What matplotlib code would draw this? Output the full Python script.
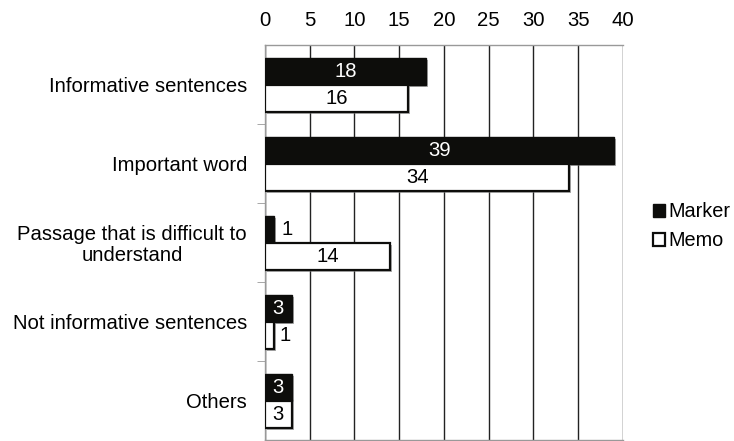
import matplotlib.pyplot as plt
import matplotlib.patheffects as pe
import numpy as np
from matplotlib.patches import Patch

plt.rcParams['font.family'] = ['Liberation Sans', 'DejaVu Sans']

categories = ["Informative sentences", "Important word",
              "Passage that is difficult to\nunderstand",
              "Not informative sentences", "Others"]
marker_counts = [18, 39, 1, 3, 3]
memo_counts = [16, 34, 14, 1, 3]
xticks = [0, 5, 10, 15, 20, 25, 30, 35, 40]

fig = plt.figure(figsize=(7.34, 4.41), dpi=100)
ax = fig.add_axes([0.361, 0.0023, 0.4877, 0.8957])

y = np.arange(len(categories))
h = 0.34
shadow = [pe.SimplePatchShadow(offset=(1.5, -1.5), shadow_rgbFace="#777777", alpha=0.6),
          pe.Normal()]

bars_marker = ax.barh(y - h / 2 + 0.01, marker_counts, height=h, color="#0d0d0b",
                      edgecolor="#0d0d0b", linewidth=1, zorder=3)
bars_memo = ax.barh(y + h / 2 + 0.01, memo_counts, height=h, color="white",
                    edgecolor="#0d0d0b", linewidth=1.6, zorder=3)
for bar in list(bars_marker) + list(bars_memo):
    bar.set_path_effects(shadow)

fs = 14.6
for bar, v in zip(bars_marker, marker_counts):
    cy = bar.get_y() + bar.get_height() / 2
    if v >= 3:
        ax.text(v / 2, cy, str(v), ha="center", va="center",
                color="white", fontsize=fs, zorder=4)
    else:
        ax.text(v + 0.8, cy, str(v), ha="left", va="center",
                color="black", fontsize=fs, zorder=4)
for bar, v in zip(bars_memo, memo_counts):
    cy = bar.get_y() + bar.get_height() / 2
    if v >= 3:
        ax.text(v / 2, cy, str(v), ha="center", va="center",
                color="black", fontsize=fs, zorder=4)
    else:
        ax.text(v + 0.6, cy, str(v), ha="left", va="center",
                color="black", fontsize=fs, zorder=4)

ax.set_xlim(0, 40)
ax.set_ylim(len(categories) - 0.5, -0.5)
ax.xaxis.tick_top()
ax.set_xticks(xticks)
ax.tick_params(axis="x", length=0, pad=11, labelsize=fs)
ax.grid(axis="x", color="#222222", linewidth=1, zorder=0)

ax.set_yticks(y)
ax.set_yticklabels(categories, fontsize=fs, multialignment="center",
                   linespacing=1.1)
ax.tick_params(axis="y", length=0, pad=13)
ax.set_yticks(np.arange(len(categories) - 1) + 0.5, minor=True)
ax.tick_params(axis="y", which="minor", length=6, color="#999999")

ax.spines["right"].set_visible(False)
for side in ["left", "top", "bottom"]:
    ax.spines[side].set_color("#999999")
    ax.spines[side].set_linewidth(1)

handles = [Patch(facecolor="#0d0d0b", edgecolor="#0d0d0b", label="Marker"),
           Patch(facecolor="white", edgecolor="#0d0d0b", linewidth=1.6, label="Memo")]
fig.legend(handles=handles, loc="center left", bbox_to_anchor=(0.89, 0.487),
           frameon=False, fontsize=14.3, handlelength=0.6, handleheight=0.6,
           handletextpad=0.15, labelspacing=0.5, borderpad=0, borderaxespad=0)

fig.savefig("out.png", dpi=100)
